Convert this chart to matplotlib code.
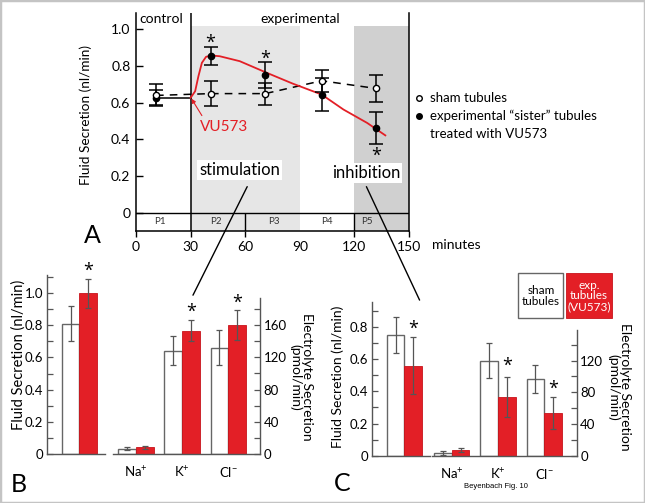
import matplotlib
matplotlib.use("Agg")
import matplotlib.pyplot as plt
from matplotlib.lines import Line2D
from matplotlib.patches import Rectangle, ConnectionPatch

plt.rcParams["font.family"] = ["Lato", "DejaVu Sans"]
plt.rcParams["mathtext.default"] = "regular"

RED = "#e31f26"
GRAY = "#555555"
STAR = dict(ha="center", va="center", fontsize=13, family="Open Sans")
W, H = 645, 503

# ---- panel A: time course ----
t_pts = [11, 41, 71, 102, 132]
sham = [0.64, 0.65, 0.65, 0.72, 0.678]
sham_err = [0.06, 0.07, 0.06, 0.06, 0.072]
exp_ = [0.627, 0.854, 0.75, 0.645, 0.463]
exp_err = [0.04, 0.05, 0.07, 0.09, 0.086]
ctrl_t = [11, 30]
ctrl_y = [0.627, 0.627]
fit_t = [30, 32.5, 34.3, 36.2, 38.5, 41.7, 46, 57, 72, 86, 102, 114, 127, 137]
fit_y = [0.627, 0.663, 0.745, 0.818, 0.851, 0.858, 0.854, 0.827, 0.763,
         0.705, 0.645, 0.563, 0.49, 0.422]
periods = ["P1", "P2", "P3", "P4", "P5"]
period_mid = [13, 44, 76, 105, 127]
star_a_t = [41, 71, 132]
star_a_y = [0.925, 0.84, 0.312]
legend_labels = ["sham tubules", "experimental \u201csister\u201d tubules", "treated with VU573"]

# ---- panels B and C: bars ----
ions = ["Na$^{+}$", "K$^{+}$", "Cl$^{-}$"]
b_fluid = [0.81, 1.00]
b_fluid_err = [0.11, 0.09]
b_ion_sham = [6.6, 128, 132]
b_ion_sham_err = [2, 18, 22]
b_ion_exp = [8.2, 153, 160]
b_ion_exp_err = [1.7, 13, 18]
c_fluid = [0.75, 0.56]
c_fluid_err = [0.11, 0.175]
c_ion_sham = [3, 120, 97]
c_ion_sham_err = [2.5, 22, 18]
c_ion_exp = [7.2, 74, 54]
c_ion_exp_err = [2.5, 25, 20]


def rect(l, t, r, b):
    return [l / W, 1 - b / H, (r - l) / W, (b - t) / H]


def fx(px):
    return px / W


def fy(py):
    return 1 - py / H


fig = plt.figure(figsize=(W / 100, H / 100), dpi=100)
fig.patches.append(Rectangle((0, 0), 1, 1, transform=fig.transFigure,
                             fill=False, edgecolor="#c4c4c4", lw=2.5))

# ================= A =================
ax = fig.add_axes(rect(136, 13, 409, 231))
ax.set_xlim(0, 150)
ax.set_ylim(-0.1, 1.09)
ax.axvspan(30, 90, ymin=0, ymax=(1.02 + 0.1) / 1.19, color="#e6e6e6", lw=0, zorder=0)
ax.axvspan(120, 150, ymin=0, ymax=(1.02 + 0.1) / 1.19, color="#d0d0d0", lw=0, zorder=0)
ax.spines["top"].set_visible(False)
for s in ["left", "right", "bottom"]:
    ax.spines[s].set_linewidth(1.1)
ax.axvline(30, color="k", lw=1.1)
ax.plot([0, 150], [0, 0], color="k", lw=1.0)
ax.vlines([60, 120], -0.1, 0, color="k", lw=1.0)
for p, m in zip(periods, period_mid):
    ax.text(m, -0.05, p, ha="center", va="center", fontsize=7, color="#333333")

ax.set_xticks([0, 30, 60, 90, 120, 150])
ax.tick_params(axis="x", direction="out", length=4, width=1, labelsize=10, pad=3)
ax.xaxis.get_major_ticks()[3].tick1line.set_visible(False)
ax.set_yticks([0, 0.2, 0.4, 0.6, 0.8, 1.0])
ax.set_yticklabels(["0", "0.2", "0.4", "0.6", "0.8", "1.0"])
ax.tick_params(axis="y", direction="in", length=5, width=1, labelsize=10, pad=4)
ax.set_ylabel("Fluid Secretion (nl/min)", fontsize=9.8)
ax.yaxis.set_label_coords(-0.16, 0.53)
ax.text(1.084, -0.066, "minutes", transform=ax.transAxes, fontsize=10, va="center")

ax.plot(ctrl_t, ctrl_y, color="k", lw=1.1, zorder=3)
ax.plot(fit_t, fit_y, color=RED, lw=1.3, zorder=4)
ax.plot(t_pts, sham, color="k", lw=1.1, dashes=[5, 4], zorder=3)
ax.errorbar(t_pts, exp_, yerr=exp_err, fmt="o", color="k", ms=4.5, capsize=5,
            elinewidth=1.1, capthick=1.1, zorder=5)
ax.errorbar(t_pts, sham, yerr=sham_err, fmt="o", color="k", mfc="white", ms=4.5,
            capsize=5, elinewidth=1.1, capthick=1.1, zorder=6)
for tx, ty in zip(star_a_t, star_a_y):
    ax.text(tx, ty, "*", **STAR)

ax.text(2, 1.055, "control", fontsize=10, va="center")
ax.text(90, 1.055, "experimental", fontsize=10, va="center", ha="center")
ax.text(35, 0.47, "VU573", color=RED, fontsize=11, va="center")
ax.annotate("", xy=(30.5, 0.622), xytext=(36.2, 0.53),
            arrowprops=dict(arrowstyle="-|>", color=RED, lw=0.8,
                            mutation_scale=6, shrinkA=0, shrinkB=0))
box = dict(facecolor="white", edgecolor="none", pad=1.5)
ax.text(57, 0.235, "stimulation", ha="center", va="center", fontsize=12, bbox=box)
ax.text(126.5, 0.218, "inhibition", ha="center", va="center", fontsize=12, bbox=box)

# legend of A, drawn by hand so the filled dot sits on the first line
fig.add_artist(Line2D([fx(419)], [fy(98)], transform=fig.transFigure, marker="o",
                      ms=4, color="k", mfc="white", ls="none"))
fig.add_artist(Line2D([fx(419)], [fy(116)], transform=fig.transFigure, marker="o",
                      ms=4, color="k", ls="none"))
for lab, ypx in zip(legend_labels, [98, 116, 134]):
    fig.text(fx(430), fy(ypx), lab, fontsize=9.5, va="center")

fig.text(fx(92), fy(235), "A", fontsize=18, ha="center", va="center")


# ================= B & C =================
def style_bar_ax(a, side):
    for s in ["top", "right", "left"]:
        a.spines[s].set_visible(False)
    a.spines[side].set_visible(True)
    for s in [side, "bottom"]:
        a.spines[s].set_color(GRAY)
        a.spines[s].set_linewidth(1.0)
    a.tick_params(axis="x", length=0, labelsize=9.5, pad=8)
    a.tick_params(axis="y", direction="in", length=4, width=0.9, color=GRAY,
                  labelsize=9.5, pad=2.5)


def fluid_panel(rc, vals, errs, top, star_y, nticks):
    a = fig.add_axes(rc)
    a.set_xlim(-0.71, 0.56)
    a.set_ylim(0, top)
    w = 0.383
    a.bar([-w / 2], [vals[0]], w, color="white", edgecolor="#666666", lw=1.0)
    a.bar([w / 2], [vals[1]], w, color=RED, edgecolor="#c8141b", lw=0.6)
    a.errorbar([-w / 2, w / 2], vals, yerr=errs, fmt="none", ecolor=GRAY,
               elinewidth=0.9, capsize=2.2, capthick=0.9)
    a.text(w / 2, star_y, "*", **STAR)
    style_bar_ax(a, "left")
    a.set_xticks([])
    a.set_yticks([i / 10 for i in range(nticks)])
    a.set_yticklabels([("0" if i == 0 else f"{i / 10:.1f}") if i % 2 == 0 else ""
                       for i in range(nticks)])
    return a


def ion_panel(rc, xl, sv, se, ev, ee, top, stars, nticks):
    a = fig.add_axes(rc)
    a.set_xlim(*xl)
    a.set_ylim(0, top)
    w = 0.383
    pos = list(range(len(ions)))
    a.bar([p - w / 2 for p in pos], sv, w, color="white", edgecolor="#666666", lw=1.0)
    a.bar([p + w / 2 for p in pos], ev, w, color=RED, edgecolor="#c8141b", lw=0.6)
    a.errorbar([p - w / 2 for p in pos], sv, yerr=se, fmt="none", ecolor=GRAY,
               elinewidth=0.9, capsize=2.2, capthick=0.9)
    a.errorbar([p + w / 2 for p in pos], ev, yerr=ee, fmt="none", ecolor=GRAY,
               elinewidth=0.9, capsize=2.2, capthick=0.9)
    for p, sy in stars:
        a.text(p + w / 2, sy, "*", **STAR)
    style_bar_ax(a, "right")
    a.yaxis.tick_right()
    a.set_xticks(pos)
    a.set_xticklabels(ions)
    a.set_yticks([20 * i for i in range(nticks)])
    a.set_yticklabels([str(20 * i) if i % 2 == 0 else "" for i in range(nticks)])
    return a


axb1 = fluid_panel(rect(46.7, 275, 105, 454), b_fluid, b_fluid_err, 1.112, 1.14, 12)
axb2 = ion_panel(rect(113, 298, 260, 454), (-0.498, 2.687), b_ion_sham, b_ion_sham_err,
                 b_ion_exp, b_ion_exp_err, 193.5, [(1, 176.5), (2, 188)], 10)
axc1 = fluid_panel(rect(371.7, 301.7, 430, 455.7), c_fluid, c_fluid_err, 0.957, 0.79, 10)
axc2 = ion_panel(rect(431.7, 330, 576.7, 455.7), (-0.432, 2.70), c_ion_sham, c_ion_sham_err,
                 c_ion_exp, c_ion_exp_err, 158.7, [(1, 113), (2, 85)], 8)

for x_px, y_px, fs in [(18.5, 355, 10.5), (338, 377, 10)]:
    fig.text(fx(x_px), fy(y_px), "Fluid Secretion (nl/min)", rotation=90,
             ha="center", va="center", fontsize=fs)
for x_px, y_px in [(301, 377), (619, 387)]:
    fig.text(fx(x_px), fy(y_px), "Electrolyte Secretion\n(pmol/min)", rotation=270,
             ha="center", va="center", fontsize=10, linespacing=0.95)

fig.text(fx(19), fy(484), "B", fontsize=18, ha="center", va="center")
fig.text(fx(342.5), fy(483.5), "C", fontsize=18, ha="center", va="center")
fig.text(fx(495.5), fy(486), "Beyenbach Fig. 10", fontsize=5.5, ha="center",
         va="center", family="Liberation Sans")

# key boxes in C
fig.patches.append(Rectangle((fx(518.3), fy(318.3)), 45 / W, 45 / H,
                             transform=fig.transFigure, facecolor="white",
                             edgecolor="#666666", lw=1.0))
fig.patches.append(Rectangle((fx(566), fy(318.3)), 45.7 / W, 45 / H,
                             transform=fig.transFigure, facecolor=RED,
                             edgecolor="#c8141b", lw=0.6))
fig.text(fx(541), fy(295.8), "sham\ntubules", ha="center", va="center",
         fontsize=8.5, linespacing=1.0)
fig.text(fx(588.8), fy(295.8), "exp.\ntubules\n(VU573)", ha="center", va="center",
         fontsize=8.5, color="white", linespacing=0.95)

# connector lines from A to the zoomed panels
for xa, ya, axto, xb, yb in [(61.1, 0.142, axb2, 1.235, 197),
                             (126.6, 0.142, axc1, 0.333, 0.967)]:
    con = ConnectionPatch(xyA=(xa, ya), coordsA=ax.transData, xyB=(xb, yb),
                          coordsB=axto.transData, color="k", lw=1.0)
    fig.add_artist(con)

fig.savefig("out.png", dpi=100)
